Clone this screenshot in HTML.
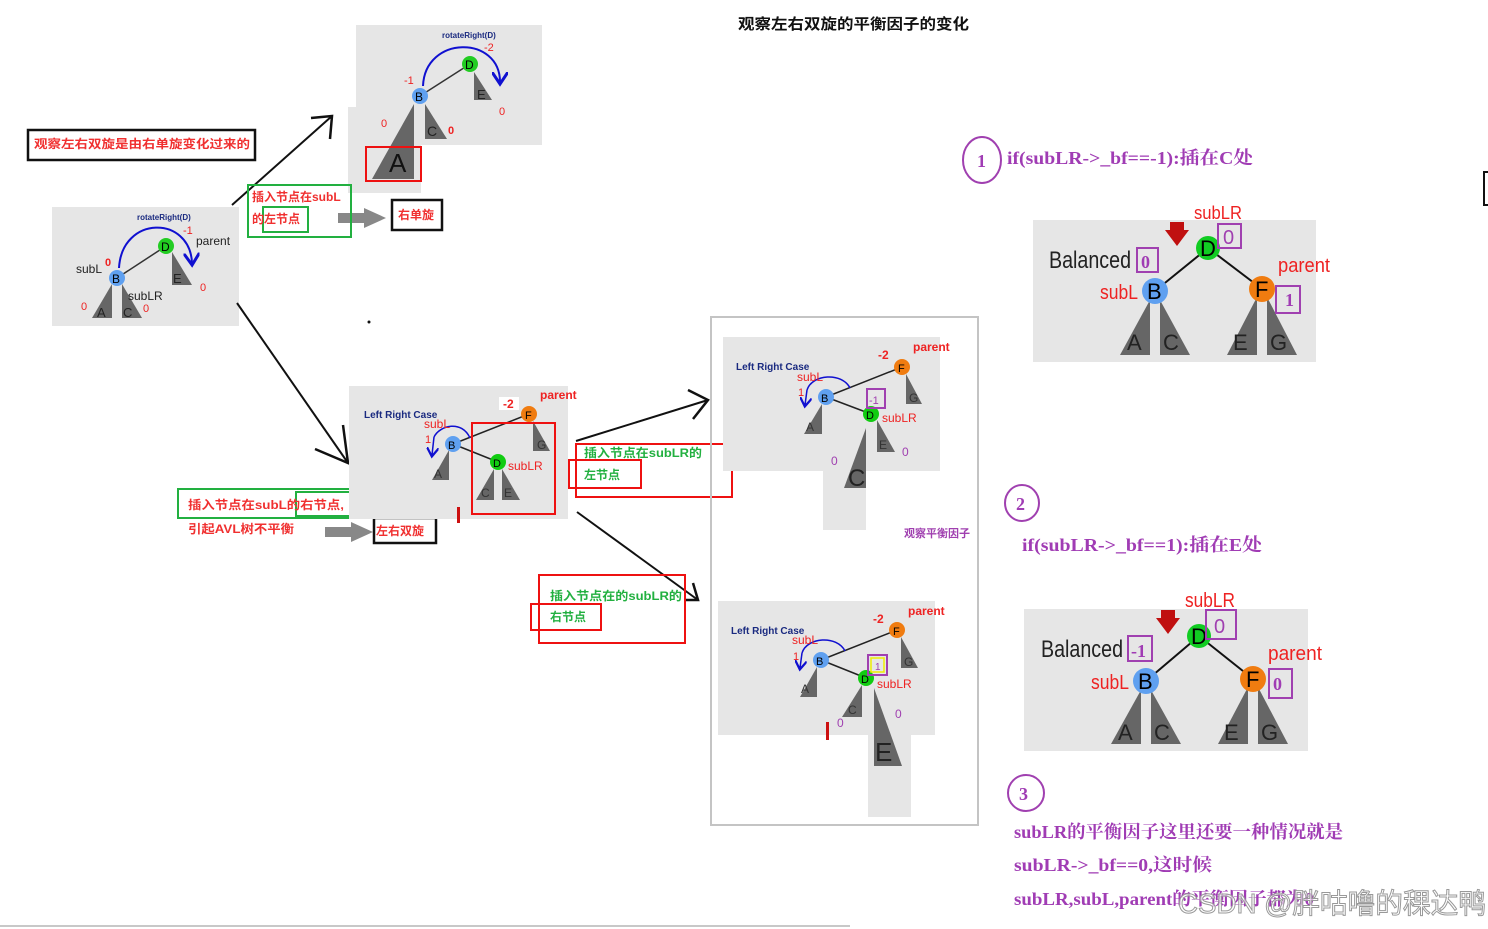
<!DOCTYPE html>
<html><head><meta charset="utf-8"><style>
html,body{margin:0;padding:0;background:#fff;}
svg{display:block;}
text{font-family:"Liberation Sans","Noto Sans CJK SC",sans-serif;}
.cn{font-family:"Liberation Sans","Noto Sans CJK SC",sans-serif;font-weight:bold;}
.sf{font-family:"Liberation Serif","Noto Serif CJK SC",serif;font-weight:bold;fill:#a03cb4;font-size:18px;}
</style></head><body>
<svg width="1488" height="929" viewBox="0 0 1488 929" xmlns="http://www.w3.org/2000/svg">
<defs>
<marker id="bl" markerWidth="8" markerHeight="8" refX="5" refY="4" orient="auto"><path d="M0,0 L6,4 L0,8" fill="none" stroke="#1010d0" stroke-width="1.5"/></marker>
</defs>
<text x="738" y="29" class="cn" font-size="15" fill="#111" textLength="231" lengthAdjust="spacingAndGlyphs">观察左右双旋的平衡因子的变化</text>

<!-- Left panel -->
<rect x="52" y="207" width="187" height="119" fill="#e6e6e6"/>
<line x1="117" y1="278" x2="166" y2="246" stroke="#333" stroke-width="1.5"/>
<polygon points="172,252 172,285 192,285" fill="#666"/>
<polygon points="112,284 112,318 92,318" fill="#666"/>
<polygon points="122,284 122,318 142,318" fill="#666"/>
<circle cx="166" cy="246" r="8" fill="#22cc22"/><text x="161" y="251" font-size="12">D</text>
<circle cx="117" cy="278" r="8" fill="#5fa0f0"/><text x="112" y="283" font-size="12">B</text>
<text x="173" y="283" font-size="13" fill="#222">E</text><text x="97" y="317" font-size="13" fill="#222">A</text><text x="123" y="317" font-size="13" fill="#222">C</text>
<path d="M119,268 C122,215 190,215 192,263" fill="none" stroke="#1010d0" stroke-width="2" marker-end="url(#bl)"/>
<text x="137" y="220" font-size="8" fill="#1a2a80" font-weight="bold">rotateRight(D)</text>
<text x="183" y="234" font-size="11" fill="#e22">-1</text>
<text x="196" y="245" font-size="12" fill="#222">parent</text>
<text x="76" y="273" font-size="12" fill="#222">subL</text>
<text x="105" y="266" font-size="11" fill="#e22" font-weight="bold">0</text>
<text x="128" y="300" font-size="12" fill="#222">subLR</text>
<text x="200" y="291" font-size="11" fill="#e22">0</text>
<text x="81" y="310" font-size="11" fill="#e22">0</text>
<text x="143" y="312" font-size="11" fill="#e22">0</text>

<!-- Top panel -->
<rect x="356" y="25" width="186" height="120" fill="#e6e6e6"/>
<rect x="348" y="107" width="73" height="86" fill="#e6e6e6"/>
<line x1="420" y1="96" x2="470" y2="64" stroke="#333" stroke-width="1.5"/>
<polygon points="474,72 474,100 492,100" fill="#666"/>
<polygon points="425,104 425,139 447,139" fill="#666"/>
<polygon points="414,104 414,179 372,179" fill="#666"/>
<circle cx="470" cy="64" r="8" fill="#22cc22"/><text x="465" y="69" font-size="12">D</text>
<circle cx="420" cy="96" r="8" fill="#5fa0f0"/><text x="415" y="101" font-size="12">B</text>
<text x="477" y="99" font-size="13" fill="#222">E</text><text x="427" y="136" font-size="14" fill="#222">C</text>
<text x="389" y="172" font-size="26" fill="#111">A</text>
<rect x="366" y="147" width="55" height="34" fill="none" stroke="#e11" stroke-width="2"/>
<path d="M423,86 C425,35 500,35 500,82" fill="none" stroke="#1010d0" stroke-width="2" marker-end="url(#bl)"/>
<text x="442" y="38" font-size="8" fill="#1a2a80" font-weight="bold">rotateRight(D)</text>
<text x="484" y="51" font-size="11" fill="#e22">-2</text>
<text x="404" y="84" font-size="11" fill="#e22">-1</text>
<text x="381" y="127" font-size="11" fill="#e22">0</text>
<text x="448" y="134" font-size="11" fill="#e22" font-weight="bold">0</text>
<text x="499" y="115" font-size="11" fill="#e22">0</text>

<!-- arrows -->
<line x1="232" y1="205" x2="332" y2="116" stroke="#111" stroke-width="2"/>
<path d="M311,118 L332,116 L330,139" fill="none" stroke="#111" stroke-width="2.5"/>
<line x1="237" y1="303" x2="348" y2="463" stroke="#111" stroke-width="2"/>
<path d="M315,449 L348,463 L343,425" fill="none" stroke="#111" stroke-width="2.5"/>
<polygon points="338,213 364,213 364,208 386,218 364,228 364,223 338,223" fill="#888"/>
<polygon points="325,527 351,527 351,522 373,532 351,542 351,537 325,537" fill="#888"/>
<circle cx="369" cy="322" r="1.5" fill="#111"/>

<rect x="28" y="130" width="227" height="30" fill="none" stroke="#111" stroke-width="2.5"/>
<text x="34" y="148" class="cn" font-size="12" fill="#f03030" textLength="216" lengthAdjust="spacingAndGlyphs">观察左右双旋是由右单旋变化过来的</text>
<rect x="248" y="185" width="103" height="52" fill="none" stroke="#22b040" stroke-width="2"/>
<rect x="263" y="207" width="45" height="25" fill="none" stroke="#22b040" stroke-width="2"/>
<text x="252" y="201" class="cn" font-size="12" fill="#f03030">插入节点在subL</text>
<text x="252" y="223" class="cn" font-size="12" fill="#f03030">的左节点</text>
<rect x="392" y="200" width="50" height="30" fill="none" stroke="#111" stroke-width="2.5"/>
<text x="398" y="219" class="cn" font-size="12" fill="#f03030">右单旋</text>

<rect x="178" y="489" width="180" height="29" fill="none" stroke="#22b040" stroke-width="2"/>
<rect x="296" y="492" width="54" height="24" fill="none" stroke="#22b040" stroke-width="2"/>
<text x="188" y="509" class="cn" font-size="12" fill="#f03030" textLength="156" lengthAdjust="spacingAndGlyphs">插入节点在subL的右节点,</text>
<text x="188" y="533" class="cn" font-size="12" fill="#f03030" textLength="106" lengthAdjust="spacingAndGlyphs">引起AVL树不平衡</text>
<rect x="374" y="518" width="62" height="25" fill="none" stroke="#111" stroke-width="2.5"/>
<text x="376" y="535" class="cn" font-size="12" fill="#f03030">左右双旋</text>

<!-- middle panel -->
<rect x="349" y="386" width="219" height="133" fill="#e6e6e6"/>
<line x1="453" y1="444" x2="529" y2="414" stroke="#222" stroke-width="1.5"/>
<line x1="453" y1="444" x2="498" y2="462" stroke="#222" stroke-width="1.5"/>
<polygon points="533,421 533,451 550,451" fill="#666"/>
<polygon points="449,450 449,480 432,480" fill="#666"/>
<polygon points="494,469 494,500 476,500" fill="#666"/>
<polygon points="502,469 502,500 520,500" fill="#666"/>
<circle cx="529" cy="414" r="8" fill="#f07c10"/><text x="525" y="419" font-size="11">F</text>
<circle cx="453" cy="444" r="8" fill="#5fa0f0"/><text x="448" y="449" font-size="11">B</text>
<circle cx="498" cy="462" r="8" fill="#11cc11"/><text x="493" y="467" font-size="11">D</text>
<text x="537" y="449" font-size="12" fill="#333">G</text><text x="434" y="478" font-size="12" fill="#333">A</text>
<text x="481" y="497" font-size="12" fill="#333">C</text><text x="504" y="497" font-size="12" fill="#333">E</text>
<path d="M434,437 C440,425 462,420 470,438" fill="none" stroke="#1010d0" stroke-width="1.5"/>
<path d="M434,437 L432,455" fill="none" stroke="#1010d0" stroke-width="1.5" marker-end="url(#bl)"/>
<text x="364" y="418" font-size="10" fill="#1a2a80" font-weight="bold">Left Right Case</text>
<text x="424" y="428" font-size="12" fill="#e22">subL</text>
<text x="425" y="443" font-size="11" fill="#e22">1</text>
<rect x="499" y="397" width="20" height="13" fill="#fff"/>
<text x="503" y="408" font-size="12" fill="#e22" font-weight="bold">-2</text>
<text x="540" y="399" font-size="12" fill="#e22" font-weight="bold">parent</text>
<text x="508" y="470" font-size="12" fill="#e22">subLR</text>
<rect x="472" y="423" width="83" height="91" fill="none" stroke="#e11" stroke-width="2"/>
<rect x="457" y="507" width="3" height="16" fill="#c11"/>

<line x1="576" y1="441" x2="708" y2="400" stroke="#111" stroke-width="2"/>
<path d="M688,390 L708,400 L693,419" fill="none" stroke="#111" stroke-width="2.5"/>
<line x1="577" y1="512" x2="698" y2="600" stroke="#111" stroke-width="2"/>
<path d="M685,600 L698,600 L693,583" fill="none" stroke="#111" stroke-width="2.5"/>
<rect x="576" y="444" width="156" height="53" fill="none" stroke="#e11" stroke-width="2"/>
<rect x="569" y="460" width="72" height="28" fill="none" stroke="#e11" stroke-width="2"/>
<text x="584" y="457" class="cn" font-size="12" fill="#22b040" textLength="118" lengthAdjust="spacingAndGlyphs">插入节点在subLR的</text>
<text x="584" y="479" class="cn" font-size="12" fill="#22b040">左节点</text>
<rect x="539" y="575" width="146" height="68" fill="none" stroke="#e11" stroke-width="2"/>
<rect x="531" y="604" width="70" height="26" fill="none" stroke="#e11" stroke-width="2"/>
<text x="550" y="600" class="cn" font-size="12" fill="#22b040" textLength="132" lengthAdjust="spacingAndGlyphs">插入节点在的subLR的</text>
<text x="550" y="621" class="cn" font-size="12" fill="#22b040">右节点</text>

<!-- frame -->
<rect x="711" y="317" width="267" height="508" fill="none" stroke="#c4c4c4" stroke-width="2"/>
<!-- upper inner -->
<rect x="723" y="337" width="217" height="134" fill="#e6e6e6"/>
<rect x="823" y="470" width="43" height="60" fill="#e6e6e6"/>
<line x1="826" y1="397" x2="902" y2="367" stroke="#222" stroke-width="1.5"/>
<line x1="826" y1="397" x2="871" y2="414" stroke="#222" stroke-width="1.5"/>
<polygon points="906,374 906,404 922,404" fill="#666"/>
<polygon points="822,404 822,434 804,434" fill="#666"/>
<polygon points="877,420 877,452 895,452" fill="#666"/>
<polygon points="866,428 866,488 844,488" fill="#666"/>
<circle cx="902" cy="367" r="8" fill="#f07c10"/><text x="898" y="372" font-size="11">F</text>
<circle cx="826" cy="397" r="8" fill="#5fa0f0"/><text x="821" y="402" font-size="11">B</text>
<circle cx="871" cy="414" r="8" fill="#11cc11"/><text x="866" y="419" font-size="11">D</text>
<text x="909" y="402" font-size="12" fill="#333">G</text><text x="806" y="431" font-size="12" fill="#333">A</text>
<text x="879" y="449" font-size="12" fill="#333">E</text><text x="848" y="486" font-size="24" fill="#222">C</text>
<path d="M807,390 C812,374 842,372 850,388" fill="none" stroke="#1010d0" stroke-width="1.5"/>
<path d="M807,390 L805,405" fill="none" stroke="#1010d0" stroke-width="1.5" marker-end="url(#bl)"/>
<text x="736" y="370" font-size="10" fill="#1a2a80" font-weight="bold">Left Right Case</text>
<text x="797" y="381" font-size="12" fill="#e22">subL</text>
<text x="798" y="396" font-size="11" fill="#e22">1</text>
<text x="878" y="359" font-size="12" fill="#e22" font-weight="bold">-2</text>
<text x="913" y="351" font-size="12" fill="#e22" font-weight="bold">parent</text>
<rect x="867" y="389" width="18" height="19" fill="none" stroke="#a040b0" stroke-width="2"/>
<text x="869" y="404" font-size="11" fill="#a040b0">-1</text>
<text x="882" y="422" font-size="12" fill="#e22">subLR</text>
<text x="831" y="465" font-size="12" fill="#a040b0">0</text>
<text x="902" y="456" font-size="12" fill="#a040b0">0</text>
<text x="904" y="537" class="cn" font-size="11" fill="#a040b0">观察平衡因子</text>
<!-- lower inner -->
<rect x="718" y="601" width="217" height="134" fill="#e6e6e6"/>
<rect x="868" y="734" width="43" height="83" fill="#e6e6e6"/>
<line x1="821" y1="660" x2="897" y2="630" stroke="#222" stroke-width="1.5"/>
<line x1="821" y1="660" x2="866" y2="678" stroke="#222" stroke-width="1.5"/>
<polygon points="901,637 901,668 918,668" fill="#666"/>
<polygon points="817,667 817,697 800,697" fill="#666"/>
<polygon points="862,685 862,717 842,717" fill="#666"/>
<polygon points="874,688 874,766 902,766" fill="#666"/>
<circle cx="897" cy="630" r="8" fill="#f07c10"/><text x="893" y="635" font-size="11">F</text>
<circle cx="821" cy="660" r="8" fill="#5fa0f0"/><text x="816" y="665" font-size="11">B</text>
<circle cx="866" cy="678" r="8" fill="#11cc11"/><text x="861" y="683" font-size="11">D</text>
<text x="904" y="666" font-size="12" fill="#333">G</text><text x="801" y="693" font-size="12" fill="#333">A</text>
<text x="848" y="714" font-size="12" fill="#333">C</text><text x="875" y="761" font-size="26" fill="#222">E</text>
<path d="M802,653 C807,637 837,635 845,651" fill="none" stroke="#1010d0" stroke-width="1.5"/>
<path d="M802,653 L800,668" fill="none" stroke="#1010d0" stroke-width="1.5" marker-end="url(#bl)"/>
<text x="731" y="634" font-size="10" fill="#1a2a80" font-weight="bold">Left Right Case</text>
<text x="792" y="644" font-size="12" fill="#e22">subL</text>
<text x="793" y="660" font-size="11" fill="#e22">1</text>
<text x="873" y="623" font-size="12" fill="#e22" font-weight="bold">-2</text>
<text x="908" y="615" font-size="12" fill="#e22" font-weight="bold">parent</text>
<rect x="868" y="655" width="19" height="20" fill="none" stroke="#a040b0" stroke-width="2"/>
<rect x="871" y="658" width="13" height="14" fill="none" stroke="#ee0" stroke-width="1.5"/>
<text x="875" y="670" font-size="10" fill="#a040b0">1</text>
<text x="877" y="688" font-size="12" fill="#e22">subLR</text>
<text x="837" y="727" font-size="12" fill="#a040b0">0</text>
<text x="895" y="718" font-size="12" fill="#a040b0">0</text>
<rect x="826" y="722" width="3" height="18" fill="#c11"/>

<!-- right side -->
<ellipse cx="982" cy="160" rx="19" ry="23" fill="none" stroke="#a040b0" stroke-width="2"/>
<text x="977" y="167" class="sf" font-size="15">1</text>
<text x="1007" y="164" class="sf" textLength="246" lengthAdjust="spacingAndGlyphs">if(subLR-&gt;_bf==-1):插在C处</text>

<rect x="1033" y="220" width="283" height="142" fill="#e6e6e6"/>
<line x1="1155" y1="291" x2="1208" y2="248" stroke="#111" stroke-width="2"/>
<line x1="1208" y1="248" x2="1262" y2="289" stroke="#111" stroke-width="2"/>
<polygon points="1150,300 1150,355 1120,355" fill="#666"/>
<polygon points="1160,300 1160,355 1190,355" fill="#666"/>
<polygon points="1257,297 1257,355 1227,355" fill="#666"/>
<polygon points="1267,297 1267,355 1297,355" fill="#666"/>
<text x="1127" y="350" font-size="22" fill="#222">A</text><text x="1163" y="350" font-size="22" fill="#222">C</text>
<text x="1233" y="350" font-size="22" fill="#222">E</text><text x="1270" y="350" font-size="22" fill="#222">G</text>
<circle cx="1208" cy="248" r="12" fill="#11cc22"/><text x="1200" y="256" font-size="22">D</text>
<circle cx="1155" cy="291" r="13" fill="#5fa0f0"/><text x="1147" y="299" font-size="22">B</text>
<circle cx="1262" cy="289" r="13" fill="#f07c10"/><text x="1255" y="297" font-size="22">F</text>
<text x="1049" y="268" font-size="24" fill="#222" textLength="82" lengthAdjust="spacingAndGlyphs">Balanced</text>
<rect x="1137" y="248" width="21" height="24" fill="none" stroke="#a040b0" stroke-width="2"/>
<text x="1141" y="268" class="sf" font-size="17" font-weight="normal">0</text>
<polygon points="1170,222 1184,222 1184,230 1189,230 1177,246 1165,230 1170,230" fill="#c01010"/>
<text x="1194" y="219" font-size="18" fill="#e22" textLength="48" lengthAdjust="spacingAndGlyphs">subLR</text>
<rect x="1218" y="224" width="23" height="24" fill="none" stroke="#a040b0" stroke-width="2"/>
<text x="1223" y="244" font-size="20" fill="#a040b0">0</text>
<text x="1100" y="299" font-size="20" fill="#e22" textLength="38" lengthAdjust="spacingAndGlyphs">subL</text>
<text x="1278" y="272" font-size="20" fill="#e22" textLength="52" lengthAdjust="spacingAndGlyphs">parent</text>
<rect x="1276" y="286" width="24" height="27" fill="none" stroke="#a040b0" stroke-width="2"/>
<text x="1285" y="306" class="sf" font-size="17" font-weight="normal" fill="#a040b0">1</text>

<ellipse cx="1022" cy="503" rx="17" ry="18" fill="none" stroke="#a040b0" stroke-width="2"/>
<text x="1016" y="510" class="sf" font-size="16">2</text>
<text x="1022" y="551" class="sf" textLength="240" lengthAdjust="spacingAndGlyphs">if(subLR-&gt;_bf==1):插在E处</text>

<rect x="1024" y="609" width="284" height="142" fill="#e6e6e6"/>
<line x1="1146" y1="681" x2="1199" y2="636" stroke="#111" stroke-width="2"/>
<line x1="1199" y1="636" x2="1253" y2="679" stroke="#111" stroke-width="2"/>
<polygon points="1141,690 1141,744 1111,744" fill="#666"/>
<polygon points="1151,690 1151,744 1181,744" fill="#666"/>
<polygon points="1248,687 1248,744 1218,744" fill="#666"/>
<polygon points="1258,687 1258,744 1288,744" fill="#666"/>
<text x="1118" y="740" font-size="22" fill="#222">A</text><text x="1154" y="740" font-size="22" fill="#222">C</text>
<text x="1224" y="740" font-size="22" fill="#222">E</text><text x="1261" y="740" font-size="22" fill="#222">G</text>
<circle cx="1199" cy="636" r="12" fill="#11cc22"/><text x="1191" y="644" font-size="22">D</text>
<circle cx="1146" cy="681" r="13" fill="#5fa0f0"/><text x="1138" y="689" font-size="22">B</text>
<circle cx="1253" cy="679" r="13" fill="#f07c10"/><text x="1246" y="687" font-size="22">F</text>
<text x="1041" y="657" font-size="24" fill="#222" textLength="82" lengthAdjust="spacingAndGlyphs">Balanced</text>
<rect x="1128" y="636" width="24" height="25" fill="none" stroke="#a040b0" stroke-width="2"/>
<text x="1131" y="657" class="sf" font-size="16" font-weight="normal">-1</text>
<polygon points="1161,610 1175,610 1175,618 1180,618 1168,634 1156,618 1161,618" fill="#c01010"/>
<text x="1185" y="607" font-size="20" fill="#e22" textLength="50" lengthAdjust="spacingAndGlyphs">subLR</text>
<rect x="1206" y="610" width="30" height="29" fill="none" stroke="#a040b0" stroke-width="2"/>
<text x="1214" y="633" font-size="20" fill="#a040b0">0</text>
<text x="1091" y="689" font-size="20" fill="#e22" textLength="38" lengthAdjust="spacingAndGlyphs">subL</text>
<text x="1268" y="660" font-size="20" fill="#e22" textLength="54" lengthAdjust="spacingAndGlyphs">parent</text>
<rect x="1269" y="669" width="23" height="29" fill="none" stroke="#a040b0" stroke-width="2"/>
<text x="1273" y="690" class="sf" font-size="17" font-weight="normal">0</text>

<ellipse cx="1026" cy="793" rx="18" ry="18" fill="none" stroke="#a040b0" stroke-width="2"/>
<text x="1019" y="800" class="sf" font-size="16">3</text>
<text x="1014" y="838" class="sf" textLength="329" lengthAdjust="spacingAndGlyphs">subLR的平衡因子这里还要一种情况就是</text>
<text x="1014" y="871" class="sf" textLength="198" lengthAdjust="spacingAndGlyphs">subLR-&gt;_bf==0,这时候</text>
<text x="1014" y="905" class="sf" textLength="300" lengthAdjust="spacingAndGlyphs">subLR,subL,parent的平衡因子都为0</text>
<text x="1178" y="913" font-size="28" fill="#fff" fill-opacity="0.6" stroke="#999" stroke-width="1" textLength="308" lengthAdjust="spacingAndGlyphs">CSDN @胖咕噜的稞达鸭</text>

<rect x="1484" y="172" width="6" height="33" fill="none" stroke="#111" stroke-width="2"/>
<line x1="0" y1="926" x2="850" y2="926" stroke="#c8c8c8" stroke-width="2"/>
</svg>
</body></html>
